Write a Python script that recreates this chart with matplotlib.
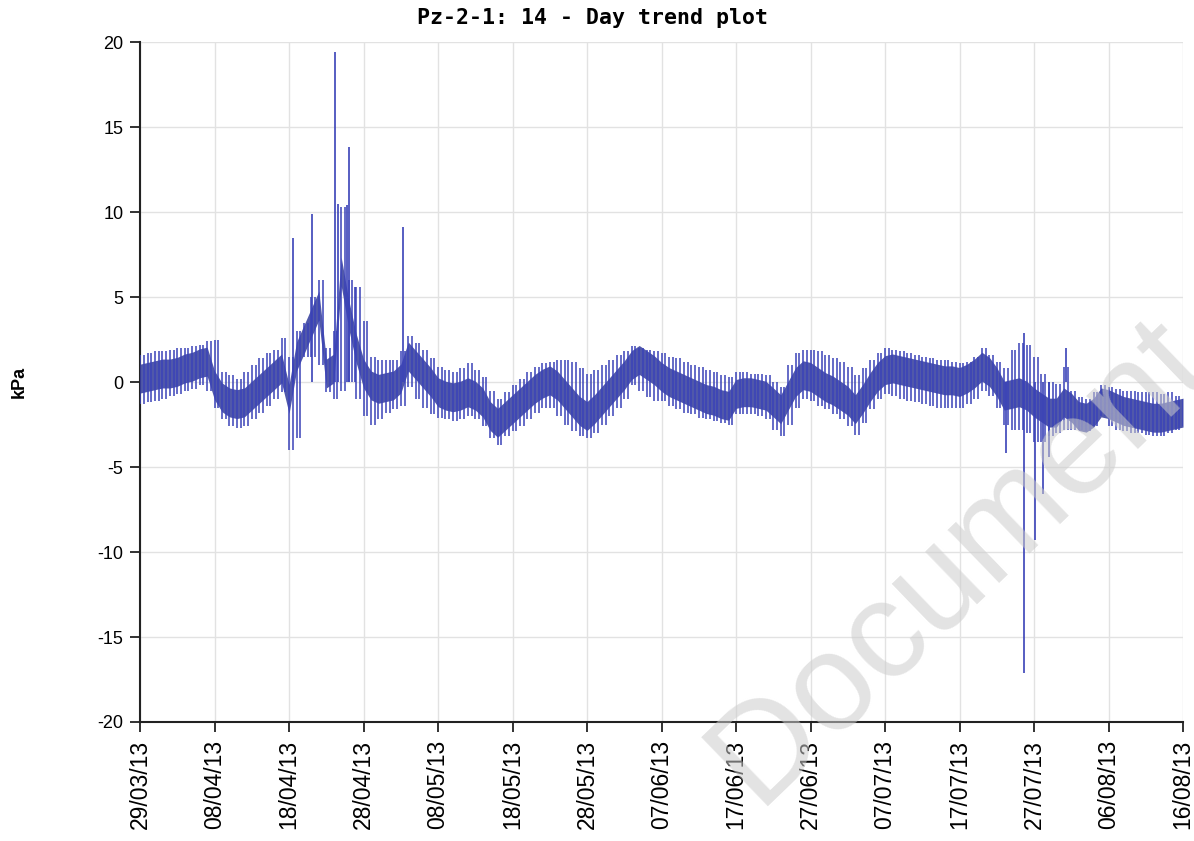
import numpy as np
import pandas as pd
import matplotlib
matplotlib.use("Agg")
import matplotlib.pyplot as plt
import matplotlib.dates as mdates

plt.rcParams['axes.unicode_minus'] = False

# x range and tick dates (every 10 days)
start = "2013-03-29"
end = "2013-08-16"
tick_dates = pd.date_range(start, end, freq="10D")

# daily band centre (kPa), one row per 10-day grid step
band_mid = [
    0.2, 0.3, 0.4, 0.5, 0.5, 0.6, 0.8, 0.9, 1.1, 1.2,
    -0.2, -0.9, -1.2, -1.3, -1.2, -0.8, -0.4, 0.0, 0.4, 0.8,
    -1.0, 1.5, 2.5, 3.5, 4.5, 0.5, 0.8, 6.5, 4.0, 2.0,
    0.5, -0.2, -0.4, -0.3, -0.2, 0.2, 1.5, 1.0, 0.5, 0.0,
    -0.6, -0.8, -0.9, -0.8, -0.6, -0.8, -1.2, -2.0, -2.4, -2.0,
    -1.6, -1.2, -0.8, -0.4, -0.1, 0.1, -0.2, -0.7, -1.2, -1.7,
    -2.0, -1.6, -1.1, -0.6, -0.1, 0.4, 1.0, 1.3, 1.0, 0.7,
    0.3, 0.0, -0.2, -0.4, -0.6, -0.8, -1.0, -1.1, -1.3, -1.4,
    -0.7, -0.6, -0.6, -0.7, -0.8, -1.2, -1.6, -0.8, 0.0, 0.4,
    0.3, 0.0, -0.3, -0.5, -0.8, -1.1, -1.6, -1.0, -0.3, 0.3,
    0.7, 0.8, 0.7, 0.6, 0.5, 0.4, 0.3, 0.2, 0.1, 0.1,
    0.0, 0.2, 0.5, 0.9, 0.6, 0.0, -0.8, -0.7, -0.6, -0.8,
    -1.2, -1.5, -1.8, -1.8, -1.2, -1.5, -2.0, -2.1, -1.8, -1.2,
    -1.3, -1.5, -1.7, -1.8, -1.9, -2.0, -2.1, -2.1, -2.0, -1.9, -1.8,
]

# daily swing extremes (kPa)
daily_high = [
    1.6, 1.7, 1.8, 1.8, 1.9, 2.0, 2.0, 2.1, 2.2, 2.4,
    2.5, 0.6, 0.4, 0.2, 0.6, 1.0, 1.4, 1.7, 1.9, 2.6,
    1.5, 3.0, 3.5, 5.0, 6.0, 2.0, 3.0, 10.3, 6.0, 5.6,
    3.6, 1.5, 1.3, 1.3, 1.3, 1.8, 2.7, 2.3, 1.9, 1.4,
    0.9, 0.7, 0.6, 0.8, 1.1, 0.7, 0.3, -0.5, -1.0, -0.6,
    -0.2, 0.2, 0.6, 0.9, 1.1, 1.2, 1.3, 1.3, 1.2, 0.8,
    0.5, 0.7, 1.0, 1.3, 1.6, 1.8, 2.1, 2.0, 1.9, 1.8,
    1.7, 1.5, 1.4, 1.2, 1.0, 0.9, 0.7, 0.6, 0.4, 0.3,
    0.6, 0.6, 0.5, 0.5, 0.4, 0.0, -0.3, 1.0, 1.7, 1.9,
    1.9, 1.8, 1.6, 1.4, 1.2, 0.9, 0.4, 0.8, 1.3, 1.7,
    2.0, 1.9, 1.8, 1.7, 1.6, 1.5, 1.4, 1.3, 1.3, 1.2,
    1.1, 1.2, 1.5, 2.0, 1.6, 1.2, 0.8, 1.9, 2.3, 2.2,
    1.5, 0.5, 0.0, -0.1, 0.9, -0.5, -0.9, -1.0, -0.6, -0.2,
    -0.3, -0.4, -0.5, -0.5, -0.6, -0.6, -0.6, -0.7, -0.6, -0.8, -1.0,
]
daily_low = [
    -1.3, -1.2, -1.1, -1.0, -0.8, -0.7, -0.5, -0.4, -0.2, -0.5,
    -1.5, -2.2, -2.6, -2.7, -2.6, -2.2, -1.8, -1.4, -1.0, -0.6,
    -4.0, -3.3, 1.5, 1.5, 1.0, -0.6, -1.0, -0.5, 0.0, -1.0,
    -2.0, -2.5, -2.2, -1.8, -1.6, -1.4, -0.3, -1.0, -1.5, -1.9,
    -2.1, -2.2, -2.3, -2.2, -2.0, -2.2, -2.6, -3.3, -3.7, -3.2,
    -2.9, -2.6, -2.2, -1.8, -1.5, -1.5, -2.0, -2.5, -2.9, -3.2,
    -3.3, -3.0, -2.5, -2.0, -1.5, -1.0, -0.2, -0.5, -0.9, -1.1,
    -1.1, -1.4, -1.6, -1.8, -1.9, -2.1, -2.2, -2.3, -2.4, -2.5,
    -1.9, -1.9, -1.9, -2.0, -2.2, -2.8, -3.2, -2.5, -1.5, -1.0,
    -1.1, -1.4, -1.6, -1.9, -2.2, -2.6, -3.1, -2.4, -1.6, -1.0,
    -0.7, -0.8, -1.0, -1.1, -1.2, -1.3, -1.4, -1.5, -1.5, -1.5,
    -1.5, -1.3, -1.0, -0.5, -0.8, -1.5, -2.5, -2.8, -2.8, -3.0,
    -3.5, -3.5, -3.2, -3.0, -2.8, -2.8, -2.8, -2.9, -2.6, -2.0,
    -2.6, -2.8, -2.9, -3.0, -3.0, -3.1, -3.2, -3.2, -3.0, -2.8, -2.6,
]

# isolated spikes: day offset from start, reading (kPa)
event_days = [20.5, 23.1, 26.2, 26.6, 27.8, 28.0, 28.9, 35.3,
              116.3, 118.6, 118.7, 120.1, 121.2, 122.0, 124.3]
event_vals = [8.5, 9.9, 19.4, 10.5, 10.4, 13.8, 5.6, 9.1,
              -4.2, 2.9, -17.1, -9.3, -6.6, -4.4, 2.0]

band_half = 0.85
line_col = '#3a42b8'
band_col = '#5058aa'

t0 = mdates.date2num(pd.Timestamp(start))
x = t0 + np.arange(len(band_mid))
mid = np.array(band_mid)
hi = np.array(daily_high)
lo = np.array(daily_low)

fig = plt.figure(figsize=(11.94, 8.41), dpi=100)
ax = fig.add_axes([0.1173, 0.1415, 0.8735, 0.8085])

ax.fill_between(x, mid - band_half, mid + band_half, color=band_col, lw=0, zorder=2)
xs = np.concatenate([x, x + 0.5])
ax.vlines(xs, np.tile(lo, 2), np.tile(hi, 2), color=line_col, lw=1.1, zorder=3)
ax.vlines(t0 + np.array(event_days), 0, event_vals, color=line_col, lw=1.2, zorder=3)

ax.set_xlim(mdates.date2num(pd.Timestamp(start)), mdates.date2num(pd.Timestamp(end)))
ax.set_ylim(-20, 20)
ax.set_yticks(range(-20, 21, 5))
ax.set_xticks(mdates.date2num(tick_dates))
ax.set_xticklabels([d.strftime("%d/%m/%y") for d in tick_dates], rotation=90,
                   fontsize=16.5, family='Liberation Sans')
for lab in ax.get_yticklabels():
    lab.set_fontsize(13)
    lab.set_family('Liberation Sans')

ax.grid(True, color='#e2e2e2', lw=1.0, zorder=0)
ax.set_axisbelow(True)
for s in ['top', 'right']:
    ax.spines[s].set_visible(False)
for s in ['left', 'bottom']:
    ax.spines[s].set_color('#222222')
    ax.spines[s].set_linewidth(1.5)
ax.tick_params(axis='both', direction='out', length=7, width=1.3, color='#222222')
ax.tick_params(axis='y', pad=5)
ax.tick_params(axis='x', pad=6)

fig.text(0.4966, 0.9786, "Pz-2-1: 14 - Day trend plot", ha='center', va='center',
         family='DejaVu Sans Mono', weight='bold', fontsize=15.5)
fig.text(0.016, 0.5458, "kPa", rotation=90, ha='center', va='center',
         family='Liberation Sans', weight='bold', fontsize=13)

# watermark across the lower right
fig.text(1240 / 1194, 1 - 340 / 841, "Document.", rotation=44,
         rotation_mode='anchor', ha='right', va='baseline', fontsize=100,
         family='Liberation Sans', color='#cccccc', alpha=0.55, zorder=10)

fig.savefig("out.png", dpi=100)
